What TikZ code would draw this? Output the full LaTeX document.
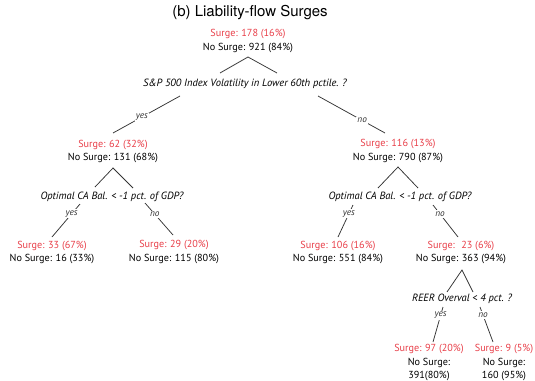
\documentclass[tikz,border=0pt]{standalone}
\usepackage{fontspec}
\setmainfont{PT Sans}
\newfontfamily\titlefont{TeX Gyre Heros}
\usetikzlibrary{positioning}
\definecolor{surgered}{RGB}{232,62,72}

\begin{document}
\begin{tikzpicture}[
    x=1pt, y=-1pt,
    count/.style={align=center, inner sep=1pt, font=\fontsize{10.2}{13.5}\selectfont},
    question/.style={inner sep=1pt, font=\fontsize{10.5}{12}\selectfont\itshape},
    answer/.style={fill=white, inner sep=1.2pt, font=\fontsize{9.3}{10}\selectfont\itshape},
    branch/.style={line width=0.75pt, black!80},
]
\useasboundingbox (0,0) rectangle (535,380);

% Title
\node[font=\titlefont\fontsize{15}{18}\selectfont] (title) at (250,13) {(b) Liability-flow Surges};

% Root
\node[count] (root) at (248,41) {\textcolor{surgered}{Surge: 178 (16\%)}\\No Surge: 921 (84\%)};
\node[question] (q0) at (245,84) {S\&P 500 Index Volatility in Lower 60th pctile. ?};
\draw[branch] ([shift={(-25,-11)}]q0.center) -- ([shift={(0,16)}]root.center) -- ([shift={(32,-11)}]q0.center);

% Left subtree
\node[count] (n1) at (113,151.5) {\textcolor{surgered}{Surge: 62 (32\%)}\\No Surge: 131 (68\%)};
\draw[branch] ([shift={(-65,12)}]q0.center) -- node[answer, pos=0.57] {yes} ([shift={(0,-18.5)}]n1.center);
\node[question] (q1) at (112,197) {Optimal CA Bal. < -1 pct. of GDP?};
\draw[branch] ([shift={(-17,-10)}]q1.center) -- ([shift={(0,16.5)}]n1.center) -- ([shift={(21,-9)}]q1.center);

\node[count] (l1) at (52,252.5) {\textcolor{surgered}{Surge: 33 (67\%)}\\No Surge: 16 (33\%)};
\node[count] (l2) at (174,252) {\textcolor{surgered}{Surge: 29 (20\%)}\\No Surge: 115 (80\%)};
\draw[branch] ([shift={(-32,7)}]q1.center) -- node[answer, pos=0.3] {yes} ([shift={(0,-15.5)}]l1.center);
\draw[branch] ([shift={(33,6)}]q1.center) -- node[answer, pos=0.35] {no} ([shift={(-1,-17)}]l2.center);

% Right subtree
\node[count] (n2) at (398,151) {\textcolor{surgered}{Surge: 116 (13\%)}\\No Surge: 790 (87\%)};
\draw[branch] ([shift={(73,12)}]q0.center) -- node[answer, pos=0.66] {no} ([shift={(-13,-18)}]n2.center);
\node[question] (q2) at (400,197) {Optimal CA Bal. < -1 pct. of GDP?};
\draw[branch] ([shift={(-22,-9)}]q2.center) -- ([shift={(0,16)}]n2.center) -- ([shift={(18,-9)}]q2.center);

\node[count] (l3) at (338,252.5) {\textcolor{surgered}{Surge: 106 (16\%)}\\No Surge: 551 (84\%)};
\node[count] (n3) at (461,252.5) {\textcolor{surgered}{Surge: \ 23 (6\%)}\\No Surge: 363 (94\%)};
\draw[branch] ([shift={(-47,8)}]q2.center) -- node[answer, pos=0.28] {yes} ([shift={(0,-15.5)}]l3.center);
\draw[branch] ([shift={(33,8)}]q2.center) -- node[answer, pos=0.28] {no} ([shift={(-3,-15.5)}]n3.center);

% REER split
\node[question] (q3) at (462,299) {REER Overval < 4 pct. ?};
\draw[branch] ([shift={(-15,-7)}]q3.center) -- ([shift={(1,17.5)}]n3.center) -- ([shift={(11,-7)}]q3.center);

\node[count] (l4) at (429,362.5) {\textcolor{surgered}{Surge: 97 (20\%)}\\No Surge:\\391(80\%)};
\node[count] (l5) at (504,362.5) {\textcolor{surgered}{Surge: 9 (5\%)}\\No Surge:\\160 (95\%)};
\draw[branch] ([shift={(-19,8)}]q3.center) -- node[answer, pos=0.23] {yes} ([shift={(4,-20.5)}]l4.center);
\draw[branch] ([shift={(18,8)}]q3.center) -- node[answer, pos=0.23] {no} ([shift={(-11,-20.5)}]l5.center);

\end{tikzpicture}
\end{document}
